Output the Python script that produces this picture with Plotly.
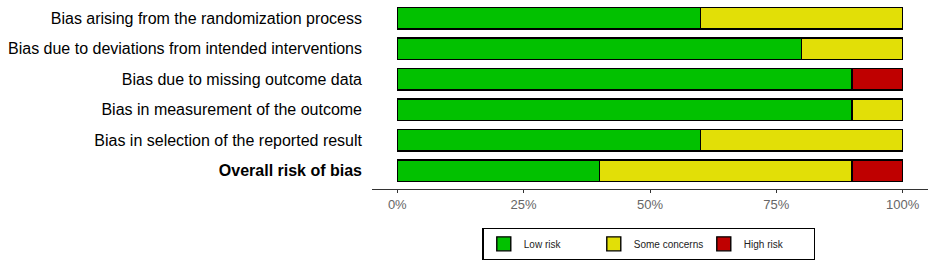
import plotly.graph_objects as go

domains = [
    "Bias arising from the randomization process",
    "Bias due to deviations from intended interventions",
    "Bias due to missing outcome data",
    "Bias in measurement of the outcome",
    "Bias in selection of the reported result",
    "Overall risk of bias",
]
domain_labels = domains[:-1] + ["<b>Overall risk of bias</b>"]

low_risk = [60, 80, 90, 90, 60, 40]
some_concerns = [40, 20, 0, 10, 40, 50]
high_risk = [0, 0, 10, 0, 0, 10]

x_ticks = [0, 25, 50, 75, 100]
x_tick_labels = ["0%", "25%", "50%", "75%", "100%"]

series = [
    ("Low risk", low_risk, "#02C100"),
    ("Some concerns", some_concerns, "#E2DF07"),
    ("High risk", high_risk, "#BF0000"),
]

fig = go.Figure()
for name, vals, col in series:
    fig.add_trace(go.Bar(
        y=list(range(len(domains))), x=vals, name=name, orientation="h",
        width=0.7, showlegend=False, legendgroup=name,
        marker=dict(color=col, line=dict(color="black", width=1.5)),
    ))
# legend keys (square swatches like the reference)
for name, vals, col in series:
    fig.add_trace(go.Scatter(
        x=[None], y=[None], mode="markers", name=name, legendgroup=name,
        marker=dict(symbol="square", size=14, color=col,
                    line=dict(color="black", width=1.4)),
    ))

fig.update_layout(
    barmode="stack",
    width=935, height=271,
    margin=dict(l=372, r=7, t=0, b=82),
    paper_bgcolor="white", plot_bgcolor="white",
    font=dict(family="Liberation Sans, Arial, sans-serif"),
    showlegend=True,
    legend=dict(
        orientation="h", x=0.498, xanchor="center", y=-0.206, yanchor="top",
        bordercolor="black", borderwidth=1.4, traceorder="normal",
        entrywidth=65, entrywidthmode="pixels",
        font=dict(size=10, color="#222"),
    ),
    xaxis=dict(
        range=[-5, 105], tickvals=x_ticks, ticktext=x_tick_labels,
        showgrid=False, zeroline=False, automargin=False,
        showline=True, linecolor="#333333", linewidth=1.3,
        ticks="outside", ticklen=3, tickcolor="#333333",
        tickfont=dict(size=13, color="#666666"),
    ),
    yaxis=dict(
        range=[5.6, -0.6], tickvals=list(range(len(domains))), ticktext=domain_labels,
        showgrid=False, zeroline=False, showline=False, ticks="",
        automargin=False, ticklabelstandoff=9,
        tickfont=dict(size=16, color="black"),
    ),
)

fig.write_html(
    "out.html",
    config={"displayModeBar": False},
    post_script="document.body.style.margin='0';document.body.style.overflow='hidden';",
)
